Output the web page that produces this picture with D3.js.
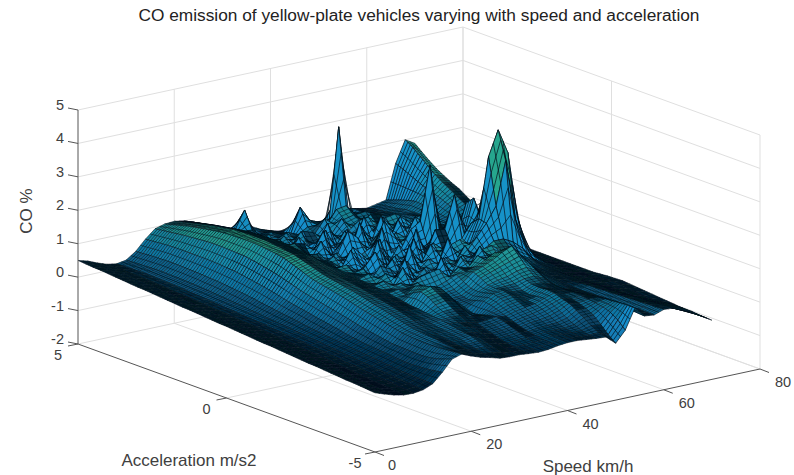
<!DOCTYPE html>
<html>
<head>
<meta charset="utf-8">
<script src="https://cdnjs.cloudflare.com/ajax/libs/d3/7.8.5/d3.min.js"></script>
<style>
  body { margin: 0; background: #fff; }
  text { font-family: "Liberation Sans", Arial, sans-serif; fill: #404040; }
</style>
</head>
<body>
<svg id="chart" width="794" height="475">
  <defs><filter id="soft" x="0" y="0" width="100%" height="100%"><feGaussianBlur stdDeviation="0.35"/></filter></defs>
</svg>
<script>
const speedTicks = [0, 20, 40, 60, 80]
const accelTicks = [5, 0, -5]
const coTicks = [5, 4, 3, 2, 1, 0, -1, -2]

// grid: one row per speed, one column per acceleration
const speeds = [0,2,4,6,8,10,12,14,16,18,20,22,24,26,28,30,32,34,36,38,40,42,44,46,48,50,52,54,56,58,60,62,64,66,68,70]
const accels = [5,4.75,4.5,4.25,4,3.75,3.5,3.25,3,2.75,2.5,2.25,2,1.75,1.5,1.25,1,0.75,0.5,0.25,0,-0.25,-0.5,-0.75,-1,-1.25,-1.5,-1.75,-2,-2.25,-2.5,-2.75,-3,-3.25,-3.5,-3.75,-4,-4.25,-4.5,-4.75,-5]
const coValues = [
  [.50,.48,.46,.45,.43,.41,.39,.37,.35,.34, .32,.30,.28,.26,.24,.23,.21,.19,.17,.15, .14,.12,.10,.08,.06,.04,.03,.01,-.01,-.03, -.05,-.07,-.08,-.10,-.12,-.14,-.16,-.17,-.19,-.21,-.23],
  [.42,.40,.39,.37,.36,.34,.32,.30,.28,.26, .25,.23,.21,.19,.18,.16,.14,.12,.11,.09, .07,.05,.03,.01,-.01,-.03,-.05,-.07,-.09,-.11, -.13,-.15,-.17,-.19,-.21,-.23,-.25,-.27,-.29,-.31,-.33],
  [.30,.29,.28,.28,.27,.25,.23,.22,.20,.18, .17,.15,.13,.11,.09,.08,.06,.04,.02,.01, -.01,-.03,-.05,-.07,-.09,-.11,-.13,-.15,-.17,-.19, -.21,-.23,-.25,-.27,-.30,-.32,-.34,-.36,-.38,-.40,-.42],
  [.20,.20,.20,.19,.19,.18,.16,.15,.14,.12, .11,.09,.07,.06,.04,.03,.01,-.01,-.03,-.04, -.06,-.08,-.10,-.12,-.14,-.16,-.18,-.20,-.22,-.24, -.26,-.29,-.31,-.33,-.35,-.38,-.40,-.42,-.44,-.46,-.48],
  [.15,.16,.16,.17,.17,.16,.15,.14,.13,.12, .10,.09,.07,.05,.04,.02,.00,-.02,-.03,-.05, -.07,-.09,-.11,-.13,-.15,-.17,-.19,-.21,-.23,-.25, -.27,-.30,-.32,-.34,-.36,-.39,-.41,-.43,-.45,-.47,-.49],
  [.20,.21,.22,.23,.24,.24,.23,.23,.22,.21, .19,.18,.16,.14,.12,.10,.08,.05,.03,.00, -.02,-.04,-.06,-.09,-.11,-.13,-.15,-.18,-.20,-.22, -.24,-.27,-.29,-.31,-.34,-.36,-.38,-.40,-.42,-.44,-.45],
  [.40,.41,.43,.44,.45,.45,.45,.44,.43,.42, .40,.39,.37,.34,.32,.29,.26,.22,.19,.15, .12,.09,.06,.02,-.01,-.04,-.07,-.09,-.12,-.14, -.17,-.19,-.21,-.23,-.26,-.28,-.30,-.31,-.32,-.33,-.33],
  [.70,.72,.74,.76,.77,.77,.77,.77,.77,.76, .75,.73,.71,.68,.64,.60,.56,.51,.46,.40, .35,.31,.27,.22,.18,.14,.10,.05,.01,-.02, -.05,-.07,-.09,-.11,-.13,-.15,-.15,-.14,-.12,-.09,-.05],
  [.95,.98,1.01,1.04,1.07,1.09,1.11,1.13,1.14,1.14, 1.13,1.12,1.11,1.07,1.03,.98,.93,.87,.80,.73, .66,.61,.56,.51,.46,.41,.36,.30,.25,.21, .17,.13,.09,.08,.07,.06,.06,.08,.13,.20,.28],
  [1.03,1.09,1.15,1.21,1.26,1.30,1.34,1.38,1.41,1.42, 1.43,1.43,1.43,1.41,1.38,1.35,1.31,1.23,1.15,1.06, .98,.93,.88,.83,.78,.72,.66,.60,.55,.50, .45,.40,.35,.33,.31,.30,.30,.31,.33,.35,.37],
  [1.05,1.11,1.17,1.23,1.28,1.33,1.37,1.41,1.45,1.46, 1.47,1.47,1.47,1.45,1.42,1.39,1.36,1.29,1.22,1.15, 1.08,1.03,.99,.94,.90,.85,.79,.73,.68,.62, .56,.50,.44,.41,.39,.37,.34,.32,.30,.27,.25],
  [1.00,1.05,1.10,1.15,1.20,1.24,1.28,1.32,1.35,1.37, 1.38,1.39,1.40,1.38,1.36,1.33,1.30,1.24,1.18,1.11, 1.05,1.01,.98,.94,.90,.85,.80,.75,.70,.64, .58,.51,.45,.41,.37,.33,.30,.26,.22,.18,.15],
  [.90,.94,.98,1.02,1.05,1.09,1.13,1.17,1.20,1.22, 1.23,1.24,1.25,1.23,1.20,1.18,1.15,1.10,1.05,1.00, .95,.93,.90,.88,.85,.80,.75,.70,.65,.60, .55,.50,.45,.41,.38,.34,.30,.24,.18,.13,.08],
  [.70,.74,.78,.81,.85,.89,.93,.97,1.00,1.00, 1.02,1.00,1.00,.98,.97,.96,.95,.92,.90,.88, .85,.82,.80,.78,.75,.72,.68,.64,.60,.58, .55,.52,.50,.46,.42,.38,.35,.27,.18,.08,.00],
  [.45,.55,.65,.78,.82,.90,.85,.95,.88,.98, .85,1.02,.90,.80,.95,.72,.88,.70,.95,.78, .82,.92,.70,.86,.72,.78,.70,.84,.95,.88, .72,.60,.52,.45,.40,.30,.22,.15,.08,.02,-.02],
  [.35,.55,.85,1.32,.80,.62,.70,.55,.75,.50, .72,.95,.60,.82,.55,.90,.62,.78,.50,.85, .60,.72,.95,.68,.82,.75,.90,.98,1.05,.92, .78,.62,.50,.38,.30,.22,.15,.08,.02,-.01,-.02],
  [.20,.22,.30,.45,.55,.68,.48,.80,.58,.92, .45,.70,1.05,.52,.85,.60,1.10,.55,.80,.48, .95,.62,.75,1.15,.70,.85,.72,.88,.95,.85, .70,.55,.42,.30,.22,.15,.08,.02,-.02,-.04,-.05],
  [.18,.25,.35,.50,.60,.52,.75,.50,.95,.60, .40,1.20,.55,.72,.50,1.05,.65,.48,1.15,.62, .80,.50,1.25,.65,.88,.60,.75,.70,.60,.48, .38,.30,.35,.32,.25,.18,.10,.04,-.02,-.05,-.07],
  [.40,.32,.35,.42,.50,.62,.48,.82,.42,.68, 1.10,.45,.85,1.30,.55,.75,.42,1.35,.60,.95, .48,1.05,.58,.78,.95,.62,.50,.42,.36,.28, .20,.26,.32,.36,.30,.22,.14,.06,.00,-.03,-.05],
  [.25,.28,.35,.40,.42,.50,.52,.72,.50,1.15, .52,.80,.48,1.05,.70,.45,1.25,.55,.90,.50, 1.40,.62,.85,.55,1.00,.72,.55,.45,.40,.46, .52,.48,.40,.32,.24,.16,.10,.06,.02,.00,.00],
  [.15,.18,.30,.62,1.17,.66,.55,.48,.78,.45, .95,.55,1.35,.60,.85,1.45,.50,.80,.52,1.10, .60,.75,.50,1.20,.70,.85,.72,.60,.58,.62, .68,.62,.50,.40,.30,.22,.14,.10,.06,.04,.03],
  [.05,.15,.30,.55,.72,.66,.92,.58,.50,.85, .52,1.10,.60,.78,1.50,.62,.95,.48,1.30,.65, .85,.52,1.05,.62,.92,.88,.95,.85,.72,.70, .72,.66,.55,.45,.35,.25,.16,.10,.06,.04,.03],
  [.10,.12,.25,.50,.60,.60,.70,.95,.68,.52, 1.25,.58,.90,.62,1.05,.70,.55,1.43,.60,1.15, .62,.92,.70,1.10,.85,.96,1.05,.95,.80,.70, .62,.56,.52,.50,.42,.30,.18,.10,.05,.01,.00],
  [.25,.25,.28,.35,.55,1.00,.78,.60,.90,.55, .72,1.30,.58,.95,.62,1.20,.78,.60,1.05,.72, 1.35,.70,1.00,.78,1.15,1.10,1.18,1.05,.85,.72, .60,.55,.58,.60,.52,.40,.25,.14,.05,-.01,-.03],
  [.20,.25,.35,.80,3.33,1.05,.85,.72,.95,.68, 1.10,.62,1.20,.75,.90,1.40,.70,1.30,.80,1.00, .72,1.15,.85,1.30,.95,1.25,1.35,1.15,.95,.80, .72,.70,.72,.70,.62,.55,.42,.28,.12,.00,-.05],
  [.05,.15,.30,.50,.75,.72,.60,.88,.65,.95, .70,1.15,.72,1.30,.85,3.00,.90,1.25,.78,1.10, .85,.70,1.05,.88,1.10,1.30,1.48,1.25,1.00,.82, .70,.65,.62,.60,.56,.50,.42,.30,.10,-.12,-.30],
  [-.10,.10,.25,.40,.60,.75,.55,.82,.60,1.00, .72,.90,.65,1.05,.80,.92,1.10,2.22,1.00,.88, 1.20,.92,1.10,.85,.95,1.05,1.15,1.00,.85,.70, .62,.60,.58,.60,.58,.55,.52,.48,.40,.25,.03],
  [.15,.20,.25,.30,.48,.60,.52,.70,.58,.85, .62,1.05,.70,.95,.78,1.20,.85,1.00,1.40,1.60, 1.55,1.10,.90,.75,.85,.80,.72,.65,.55,.48, .40,.42,.45,.48,.52,.55,.58,.60,.62,.63,.63],
  [.32,.38,.36,.42,.40,.46,.50,.55,.60,.70, .58,.75,.62,.88,.70,.95,1.77,2.00,1.40,3.40, 2.00,1.10,.85,.70,.62,.55,.50,.45,.40,.36, .34,.34,.34,.35,.36,.36,.36,.36,.36,.35,.33],
  [.25,.30,.28,.34,.32,.38,.36,.42,.40,.50, .46,.55,.50,.62,.58,.72,.80,1.20,3.30,4.14, 3.30,.95,.62,.50,.42,.38,.34,.30,.28,.26, .25,.25,.26,.27,.28,.29,.30,.30,.31,.30,.30],
  [.20,.26,.28,.32,.36,.42,.46,.52,.55,.58, .60,.62,.66,.60,.70,.62,.72,.85,2.20,3.40, 1.50,.70,.48,.38,.32,.30,.28,.26,.26,.28, .30,.30,.32,.32,.34,.35,.36,.37,.38,.39,.40],
  [.26,.30,.33,.36,.42,.42,.42,.40,.38,.36, .36,.34,.32,.30,.30,.28,.40,.60,1.30,1.40, .70,.34,.26,.22,.20,.20,.20,.20,.20,.22, .24,.24,.24,.26,.28,.30,.30,.32,.34,.36,.38],
  [.32,.40,.48,.55,.60,.58,.55,.50,.45,.42, .38,.32,.20,.18,.16,.14,.14,.20,.38,.45, .28,.15,.10,.09,.08,.08,.09,.09,.10,.10, .10,.10,.10,.12,.14,.17,.22,.26,.29,.31,.32],
  [1.35,1.26,1.15,1.05,.95,.88,.80,.70,.60,.48, .35,.24,.15,.12,.10,.08,.05,.05,.05,.04, .03,.03,.02,.02,.02,.03,.04,.05,.05,.04, .03,.01,-.02,-.04,-.04,-.02,.00,.03,.07,.11,.15],
  [2.00,1.85,1.66,1.47,1.28,1.13,1.00,.86,.72,.55, .36,.20,.05,.02,.00,-.01,-.02,-.03,-.03,-.03, -.03,-.03,-.04,-.04,-.04,-.03,-.02,.00,.02,.00, -.02,-.05,-.08,-.09,-.10,-.11,-.12,-.10,-.08,-.06,-.05],
  [1.83,1.64,1.46,1.30,1.17,1.05,.95,.80,.66,.47, .28,.12,-.04,-.05,-.06,-.07,-.08,-.08,-.08,-.08, -.08,-.08,-.08,-.08,-.08,-.06,-.04,-.03,-.02,-.04, -.06,-.08,-.10,-.12,-.14,-.16,-.19,-.20,-.21,-.22,-.23]
]

const origin = [375, 452]
const speedX = d3.scaleLinear().domain([0, 80]).range([0, 385])
const speedY = d3.scaleLinear().domain([0, 80]).range([0, -83])
const accelX = d3.scaleLinear().domain([-5, 5]).range([0, -297])
const accelY = d3.scaleLinear().domain([-5, 5]).range([0, -108])
const coY = d3.scaleLinear().domain([-2, 5]).range([0, -234])

function project(speed, accel, co) {
  return [origin[0] + speedX(speed) + accelX(accel), origin[1] + speedY(speed) + accelY(accel) + coY(co)]
}

const baseColor = d3.scaleLinear()
  .domain([-0.5, -0.1, 0.3, 0.7, 1.1, 1.5, 2.2, 4.2])
  .range(["#031a2c", "#063a5c", "#0c5f88", "#127a9c", "#1d9090", "#2ba280", "#3fae78", "#28a890"])

const svg = d3.select("#chart")

function gridLine(a, b) {
  svg.append("line")
    .attr("x1", a[0]).attr("y1", a[1]).attr("x2", b[0]).attr("y2", b[1])
    .attr("stroke", "#dfdfdf").attr("stroke-width", 1)
}

function axisLine(a, b) {
  svg.append("line")
    .attr("x1", a[0]).attr("y1", a[1]).attr("x2", b[0]).attr("y2", b[1])
    .attr("stroke", "#555").attr("stroke-width", 1)
}

// back walls and floor
coTicks.forEach(c => {
  gridLine(project(0, 5, c), project(80, 5, c))
  gridLine(project(80, 5, c), project(80, -5, c))
})
speedTicks.slice(1).forEach(s => {
  gridLine(project(s, 5, -2), project(s, 5, 5))
  gridLine(project(s, 5, -2), project(s, -5, -2))
})
accelTicks.slice(0, 2).forEach(a => {
  gridLine(project(80, a, -2), project(80, a, 5))
})
gridLine(project(0, 0, -2), project(80, 0, -2))
gridLine(project(80, -5, -2), project(80, -5, 5))

// surface cells, far ones first
const cells = []
for (let i = speeds.length - 2; i >= 0; i--) {
  for (let j = 0; j < accels.length - 1; j++) {
    const corners = [[i, j], [i + 1, j], [i + 1, j + 1], [i, j + 1]]
    cells.push(corners.map(c => ({ speed: speeds[c[0]], accel: accels[c[1]], co: coValues[c[0]][c[1]] })))
  }
}

function mix(a, b, t) {
  return [a[0] + (b[0] - a[0]) * t, a[1] + (b[1] - a[1]) * t]
}

// outline of a cell plus the finer mesh texture lying on its flat face
function cellPath(cell) {
  const p = cell.map(d => project(d.speed, d.accel, d.co))
  const path = d3.path()
  path.moveTo(p[0][0], p[0][1])
  path.lineTo(p[1][0], p[1][1])
  path.lineTo(p[2][0], p[2][1])
  path.lineTo(p[3][0], p[3][1])
  path.closePath()
  ;[1 / 3, 2 / 3].forEach(t => {
    const a = mix(p[0], p[3], t), b = mix(p[1], p[2], t)
    path.moveTo(a[0], a[1])
    path.lineTo(b[0], b[1])
  })
  const c = mix(p[0], p[1], 0.5), e = mix(p[3], p[2], 0.5)
  path.moveTo(c[0], c[1])
  path.lineTo(e[0], e[1])
  return path.toString()
}

function cellRange(cell) {
  const zs = cell.map(d => d.co)
  return d3.max(zs) - d3.min(zs)
}

function cellColor(cell) {
  const mean = d3.mean(cell, d => d.co)
  const steep = Math.max(0, Math.min(1, (cellRange(cell) - 0.25) / 0.35))
  const face = mean > 2.4 ? "#25a58f" : "#1590d0"
  const lit = d3.interpolateRgb(baseColor(mean), face)(steep * 0.9)
  // rows seen nearly edge-on close up into black
  const p0 = project(cell[0].speed, cell[0].accel, cell[0].co)
  const p1 = project(cell[1].speed, cell[1].accel, cell[1].co)
  const edgeOn = Math.max(0, 1 - Math.abs(p1[1] - p0[1]) / 4)
  return d3.interpolateRgb(lit, "#02101c")(edgeOn * 0.85)
}

svg.append("g").attr("filter", "url(#soft)").selectAll("path")
  .data(cells)
  .join("path")
  .attr("d", cellPath)
  .attr("fill", cellColor)
  .attr("stroke", "#04101a")
  .attr("stroke-width", d => cellRange(d) > 0.4 ? 0.7 : 0.55)
  .attr("stroke-linejoin", "round")

// axes
axisLine(project(0, 5, -2), project(0, 5, 5))
axisLine(project(0, 5, -2), project(0, -5, -2))
axisLine(project(0, -5, -2), project(80, -5, -2))

coTicks.forEach(c => {
  const p = project(0, 5, c)
  axisLine(p, [p[0] - 10, p[1] - 2])
  svg.append("text").attr("x", p[0] - 14).attr("y", p[1] + 0)
    .attr("text-anchor", "end").attr("font-size", 14.5).text(c)
})
accelTicks.forEach(a => {
  const p = project(0, a, -2)
  axisLine(p, [p[0] - 10, p[1] + 2])
  svg.append("text").attr("x", p[0] - 20).attr("y", p[1] + 16)
    .attr("text-anchor", "middle").attr("font-size", 14.5).text(a)
})
speedTicks.forEach(s => {
  const p = project(s, -5, -2)
  axisLine(p, [p[0] + 9, p[1] + 3.5])
  svg.append("text").attr("x", p[0] + (s === 0 ? 17 : 23)).attr("y", p[1] + 18)
    .attr("text-anchor", "middle").attr("font-size", 14.5).text(s)
})

svg.append("text").attr("x", 419).attr("y", 21)
  .attr("text-anchor", "middle").attr("font-size", 17.3)
  .attr("style", "fill:#222").text("CO emission of yellow-plate vehicles varying with speed and acceleration")
svg.append("text").attr("x", 189).attr("y", 466)
  .attr("text-anchor", "middle").attr("font-size", 17).text("Acceleration m/s2")
svg.append("text").attr("x", 588).attr("y", 472)
  .attr("text-anchor", "middle").attr("font-size", 17).text("Speed km/h")
svg.append("text").attr("transform", "translate(32,211) rotate(-90)")
  .attr("text-anchor", "middle").attr("font-size", 17).text("CO %")
</script>
</body>
</html>
